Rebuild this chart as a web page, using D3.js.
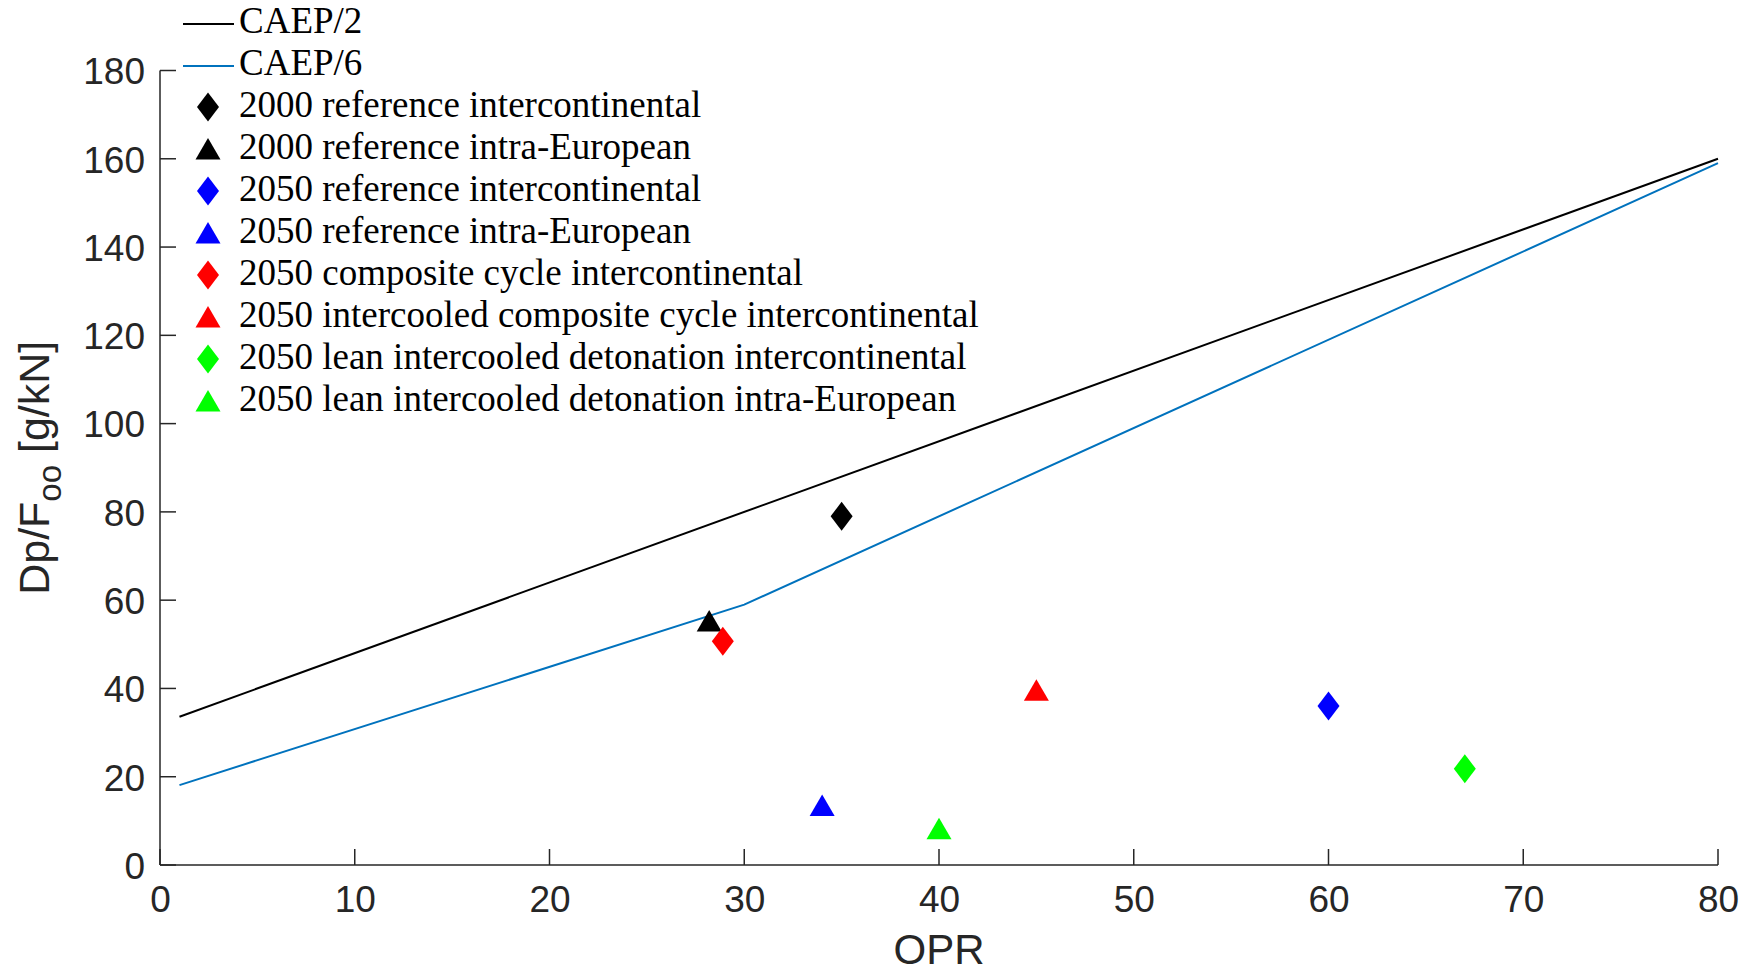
<!DOCTYPE html>
<html>
<head>
<meta charset="utf-8">
<script src="https://cdn.jsdelivr.net/npm/d3@7"></script>
<style>
  body { margin: 0; background: #fff; }
  svg { display: block; }
</style>
</head>
<body>
<svg id="canvas" width="1754" height="973"></svg>
<script>
// limit lines
let caep2Opr = [1, 80]
let caep2Val = [33.6, 160]
let caep6Opr = [1, 30, 80]
let caep6Val = [18.1, 59.0, 159.0]

// engine points
let pointNames = [
  "2000 reference intercontinental",
  "2000 reference intra-European",
  "2050 reference intercontinental",
  "2050 reference intra-European",
  "2050 composite cycle intercontinental",
  "2050 intercooled composite cycle intercontinental",
  "2050 lean intercooled detonation intercontinental",
  "2050 lean intercooled detonation intra-European"
]
let pointOpr = [35, 28.2, 60, 34, 28.9, 45, 67, 40]
let pointVal = [79, 55.3, 36, 13.5, 50.7, 39.6, 21.8, 8.2]
let pointKind = ["diamond", "triangle", "diamond", "triangle", "diamond", "triangle", "diamond", "triangle"]

let xTicks = [0, 10, 20, 30, 40, 50, 60, 70, 80]
let yTicks = [0, 20, 40, 60, 80, 100, 120, 140, 160, 180]

// styles
let markerColors = ["#000000", "#000000", "#0000ff", "#0000ff", "#ff0000", "#ff0000", "#00ff00", "#00ff00"]
let axisColor = "#262626"

let canvas = d3.select("#canvas")

let x = d3.scaleLinear().domain([0, 80]).range([160, 1718])
let y = d3.scaleLinear().domain([0, 180]).range([865, 70.5])

let markerPath = (kind) => {
  const p = d3.path()
  if (kind === "diamond") {
    p.moveTo(0, -14.5); p.lineTo(11, 0); p.lineTo(0, 14.5); p.lineTo(-11, 0); p.closePath()
  } else {
    p.moveTo(0, -11); p.lineTo(12.5, 10.5); p.lineTo(-12.5, 10.5); p.closePath()
  }
  return p.toString()
}

// axes
let xAxis = d3.axisBottom(x).tickValues(xTicks).tickSize(0).tickPadding(0)
let yAxis = d3.axisLeft(y).tickValues(yTicks).tickSize(0).tickPadding(0)

let gx = canvas.append("g").attr("transform", "translate(0,865)").call(xAxis)
gx.select(".domain").remove()
gx.selectAll("text")
  .attr("y", 47).attr("dy", 0)
  .style("font-family", "Arial, 'Liberation Sans', sans-serif")
  .style("font-size", "37px")
  .attr("fill", axisColor)

let gy = canvas.append("g").attr("transform", "translate(160,0)").call(yAxis)
gy.select(".domain").remove()
gy.selectAll("text")
  .attr("x", -15).attr("dy", "0.36em")
  .style("font-family", "Arial, 'Liberation Sans', sans-serif")
  .style("font-size", "37px")
  .attr("fill", axisColor)

// inward ticks
canvas.append("g").selectAll("line").data(xTicks).enter().append("line")
  .attr("x1", d => x(d)).attr("x2", d => x(d))
  .attr("y1", y(0)).attr("y2", y(0) - 16)
  .attr("stroke", axisColor).attr("stroke-width", 1.5)
canvas.append("g").selectAll("line").data(yTicks).enter().append("line")
  .attr("x1", x(0)).attr("x2", x(0) + 16)
  .attr("y1", d => y(d)).attr("y2", d => y(d))
  .attr("stroke", axisColor).attr("stroke-width", 1.5)

canvas.append("line")
  .attr("x1", x(0)).attr("x2", x(80)).attr("y1", y(0)).attr("y2", y(0))
  .attr("stroke", axisColor).attr("stroke-width", 1.5)
canvas.append("line")
  .attr("x1", x(0)).attr("x2", x(0)).attr("y1", y(0)).attr("y2", y(180))
  .attr("stroke", axisColor).attr("stroke-width", 1.5)

// axis labels
canvas.append("text")
  .attr("x", (x(0) + x(80)) / 2).attr("y", 964)
  .attr("text-anchor", "middle")
  .style("font-family", "Arial, 'Liberation Sans', sans-serif")
  .style("font-size", "42px")
  .attr("fill", axisColor)
  .text("OPR")

let ylab = canvas.append("text")
  .attr("transform", `translate(49,${(y(0) + y(180)) / 2}) rotate(-90)`)
  .attr("text-anchor", "middle")
  .style("font-family", "Arial, 'Liberation Sans', sans-serif")
  .style("font-size", "43px")
  .attr("fill", axisColor)
ylab.append("tspan").text("Dp/F")
ylab.append("tspan").attr("dy", 12).style("font-size", "33px").text("oo")
ylab.append("tspan").attr("dy", -12).text(" [g/kN]")

// lines
let line = d3.line().x(d => x(d[0])).y(d => y(d[1]))
let caep2 = caep2Opr.map((o, i) => [o, caep2Val[i]])
let caep6 = caep6Opr.map((o, i) => [o, caep6Val[i]])

canvas.append("path").attr("d", line(caep2))
  .attr("fill", "none").attr("stroke", "#000000").attr("stroke-width", 2)
canvas.append("path").attr("d", line(caep6))
  .attr("fill", "none").attr("stroke", "#0072bd").attr("stroke-width", 2)

// markers
canvas.append("g").selectAll("path")
  .data(pointOpr.map((o, i) => ({ opr: o, val: pointVal[i], kind: pointKind[i], color: markerColors[i] })))
  .enter()
  .append("path")
  .attr("d", d => markerPath(d.kind))
  .attr("transform", d => `translate(${x(d.opr)},${y(d.val)})`)
  .attr("fill", d => d.color)

// legend
let legend = canvas.append("g")
let rowY = (i) => 23 + i * 42
let legendFont = "'Liberation Serif', 'Times New Roman', serif"

let lineEntries = [
  { name: "CAEP/2", color: "#000000" },
  { name: "CAEP/6", color: "#0072bd" }
]
lineEntries.forEach((e, i) => {
  legend.append("line")
    .attr("x1", 183).attr("x2", 234)
    .attr("y1", rowY(i) + 1).attr("y2", rowY(i) + 1)
    .attr("stroke", e.color).attr("stroke-width", 2)
  legend.append("text")
    .attr("x", 239).attr("y", rowY(i) + 10)
    .style("font-family", legendFont).style("font-size", "37px")
    .attr("fill", "#000")
    .text(e.name)
})
pointNames.forEach((name, j) => {
  let i = j + 2
  legend.append("path")
    .attr("d", markerPath(pointKind[j]))
    .attr("transform", `translate(208,${rowY(i)})`)
    .attr("fill", markerColors[j])
  legend.append("text")
    .attr("x", 239).attr("y", rowY(i) + 10)
    .style("font-family", legendFont).style("font-size", "37px")
    .attr("fill", "#000")
    .text(name)
})
</script>
</body>
</html>
